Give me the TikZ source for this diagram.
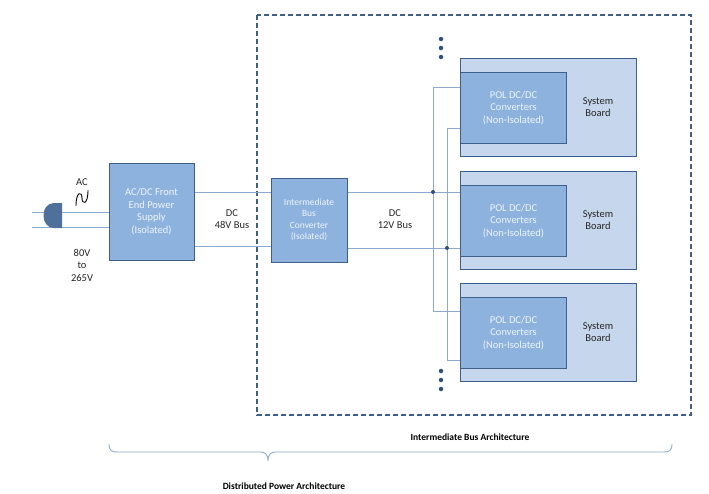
\documentclass[tikz,border=0pt]{standalone}
\usepackage{fontspec}
\setmainfont{Carlito}
\begin{document}
\begin{tikzpicture}[x=1pt,y=-1pt,
  blk/.style={draw=bdr,fill=bfill,line width=1pt},
  brd/.style={draw=bdr,fill=lfill,line width=1pt},
  wire/.style={draw=wcol,line width=0.8pt},
  wtxt/.style={text=white!85!bfill,font=\fontsize{10.5}{12.5}\selectfont,align=center},
  ktxt/.style={text=black!85,font=\fontsize{10.5}{12.5}\selectfont,align=center},
  dot/.style={circle,fill=dcol,inner sep=0pt,minimum size=4pt}]
\definecolor{bdr}{HTML}{3E5F8A}
\definecolor{bfill}{HTML}{8EB2DE}
\definecolor{lfill}{HTML}{C6D6EC}
\definecolor{wcol}{HTML}{8CAAD0}
\definecolor{dcol}{HTML}{2F4F80}
\useasboundingbox (0,0) rectangle (709,493);
% dashed box
\draw[bdr,line width=1.2pt,dash pattern=on 5pt off 3pt] (257,15) rectangle (691,415);
% input wires
\coordinate (i1) at (32,212); \coordinate (i2) at (32,227);
\draw[wire] (i1) -- (109,212); \draw[wire] (i2) -- (109,227);
\fill[bdr!80!bfill] (62,203) -- (54,203) .. controls (40,203) and (40,228) .. (54,228) -- (62,228) -- cycle;
\node[ktxt] (ac) at (82,182) {AC};
\draw[black,line width=0.9pt] (76,206) .. controls (76,191) and (82,191) .. (82,198) .. controls (82,205) and (88,205) .. (88,190);
\node[ktxt] (vin) at (82,265) {80V\\to\\265V};
% boxes
\node[blk,wtxt,minimum width=85pt,minimum height=97pt,inner sep=1pt] (fe) at (151.5,211.5) {AC/DC Front\\End Power\\Supply\\(Isolated)};
\node[blk,wtxt,minimum width=76pt,minimum height=84pt,inner sep=1pt,font=\fontsize{9.5}{11.5}\selectfont] (ibc) at (309,220) {Intermediate\\Bus\\Converter\\(Isolated)};
\draw[wire] (fe.east |- 0,192) -- (ibc.west |- 0,192);
\draw[wire] (fe.east |- 0,246) -- (ibc.west |- 0,246);
\node[ktxt] (b48) at (232,219) {DC\\48V Bus};
\node[ktxt] (b12) at (395,219) {DC\\12V Bus};
% boards
\foreach \n/\y in {1/58,2/171,3/283}{
  \draw[brd] (460,\y) rectangle (636,\y+98);
  \node[blk,wtxt,minimum width=106pt,minimum height=71pt,inner sep=1pt,anchor=north west] (pol\n) at (460,\y+14) {POL DC/DC\\Converters\\(Non-Isolated)};
  \node[ktxt] (sb\n) at (598,\y+49) {System\\Board};
}
% 12V wires
\draw[wire] (ibc.east |- 0,192) -- (460,192);
\draw[wire] (ibc.east |- 0,248) -- (460,248);
\draw[wire] (460,87) -- (433,87) -- (433,311) -- (460,311);
\draw[wire] (460,128) -- (447,128) -- (447,360) -- (460,360);
\node[dot] (d1) at (433,192) {};
\node[dot] (d2) at (447,248) {};
\foreach \y in {39,48,57,371,380,389}{\node[dot,minimum size=4.5pt] at (441,\y) {};}
% brace
\draw[wcol,line width=0.9pt] (109,444) .. controls (109,451) and (112,452) .. (118,452) -- (260,452) .. controls (265,452) and (268,454) .. (268,461) .. controls (268,454) and (271,452) .. (276,452) -- (663,452) .. controls (669,452) and (672,451) .. (672,444);
\node[font=\bfseries\fontsize{9.5}{11}\selectfont] (iba) at (470,437) {Intermediate Bus Architecture};
\node[font=\bfseries\fontsize{9.5}{11}\selectfont] (dpa) at (284,486) {Distributed Power Architecture};
\end{tikzpicture}
\end{document}
